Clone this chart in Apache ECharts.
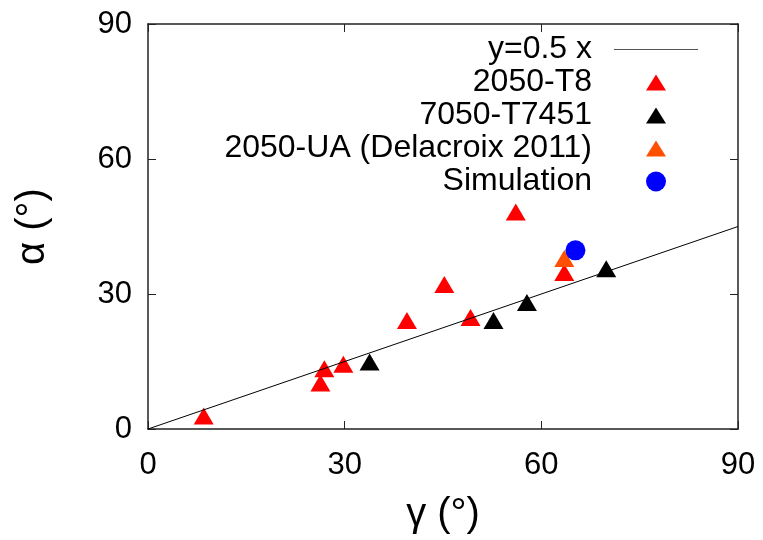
<!DOCTYPE html>
<html>
<head>
<meta charset="utf-8">
<script src="https://cdn.jsdelivr.net/npm/echarts@6/dist/echarts.min.js"></script>
<style>html,body{margin:0;padding:0;background:#fff}#c{width:763px;height:540px}</style>
</head>
<body>
<div id="c"></div>
<script>
// Reference line y = 0.5 x (end points)
const lineX = [0, 90];
const lineY = [0, 45];
// 2050-T8
const t8X = [8.5, 26.3, 26.9, 29.8, 39.5, 45.2, 49.2, 56.1, 63.5];
const t8Y = [2.9, 10.2, 13.4, 14.4, 24.1, 32.1, 24.8, 48.2, 34.8];
// 7050-T7451
const t7X = [33.8, 52.7, 57.8, 69.9];
const t7Y = [14.9, 24.1, 28.1, 35.6];
// 2050-UA (Delacroix 2011)
const uaX = [63.5];
const uaY = [37.9];
// Simulation
const simX = [65.2];
const simY = [39.7];
// axis ticks
const ticks = [0, 30, 60, 90];
const seriesNames = ['y=0.5 x', '2050-T8', '7050-T7451', '2050-UA (Delacroix 2011)', 'Simulation'];

const zip = (a, b) => a.map((v, i) => [v, b[i]]);
const FONT = "'Liberation Sans', Arial, sans-serif";
const TRI = 'path://M0,0M24,20M12,2L22,18L2,18Z';

const axisCommon = {
  type: 'value', min: ticks[0], max: ticks[ticks.length - 1], interval: 30,
  axisLine: { show: true, onZero: false, lineStyle: { color: '#222', width: 1.5 } },
  axisTick: { show: true, inside: true, length: 8, lineStyle: { color: '#222', width: 1 } },
  splitLine: { show: false }
};

const chart = echarts.init(document.getElementById('c'), null, { renderer: 'canvas' });
chart.setOption({
  backgroundColor: '#fff',
  animation: false,
  grid: { left: 148, right: 25, top: 24, bottom: 108, containLabel: false },
  xAxis: [
    Object.assign({}, axisCommon, {
      position: 'bottom',
      name: 'γ (°)', nameLocation: 'middle', nameGap: 66,
      nameTextStyle: { fontFamily: FONT, fontSize: 40, color: '#000' },
      axisLabel: { margin: 21, fontFamily: FONT, fontSize: 31, color: '#000' }
    }),
    Object.assign({}, axisCommon, { position: 'top', axisLabel: { show: false } })
  ],
  yAxis: [
    Object.assign({}, axisCommon, {
      position: 'left',
      name: 'α (°)', nameLocation: 'middle', nameGap: 95,
      nameTextStyle: { fontFamily: FONT, fontSize: 40, color: '#000' },
      axisLabel: { margin: 16, fontFamily: FONT, fontSize: 31, color: '#000' }
    }),
    Object.assign({}, axisCommon, { position: 'right', axisLabel: { show: false } })
  ],
  legend: {
    orient: 'vertical', right: 60, top: 28, align: 'right',
    itemWidth: 84, itemHeight: 20, itemGap: 0, symbolKeepAspect: true,
    textStyle: { fontFamily: FONT, fontSize: 32, color: '#000', lineHeight: 33, width: 390, align: 'right', padding: [0, 17, 0, 0] },
    data: [
      { name: seriesNames[0], icon: 'path://M0,0L84,0L84,1.2L0,1.2Z', itemStyle: { color: '#555' } },
      { name: seriesNames[1], icon: TRI },
      { name: seriesNames[2], icon: TRI },
      { name: seriesNames[3], icon: TRI },
      { name: seriesNames[4], icon: 'circle' }
    ]
  },
  series: [
    { name: seriesNames[0], type: 'line', data: zip(lineX, lineY), showSymbol: false, symbol: 'none',
      lineStyle: { color: '#000', width: 1 }, itemStyle: { color: '#000' } },
    { name: seriesNames[1], type: 'scatter', data: zip(t8X, t8Y), symbol: 'triangle', symbolSize: [20, 17],
      itemStyle: { color: '#ff0000', opacity: 1 } },
    { name: seriesNames[2], type: 'scatter', data: zip(t7X, t7Y), symbol: 'triangle', symbolSize: [20, 17],
      itemStyle: { color: '#000000', opacity: 1 } },
    { name: seriesNames[3], type: 'scatter', data: zip(uaX, uaY), symbol: 'triangle', symbolSize: [20, 17],
      itemStyle: { color: '#ff4f00', opacity: 1 } },
    { name: seriesNames[4], type: 'scatter', data: zip(simX, simY), symbol: 'circle', symbolSize: 20,
      itemStyle: { color: '#0000ff', opacity: 1 } }
  ]
});
</script>
</body>
</html>
